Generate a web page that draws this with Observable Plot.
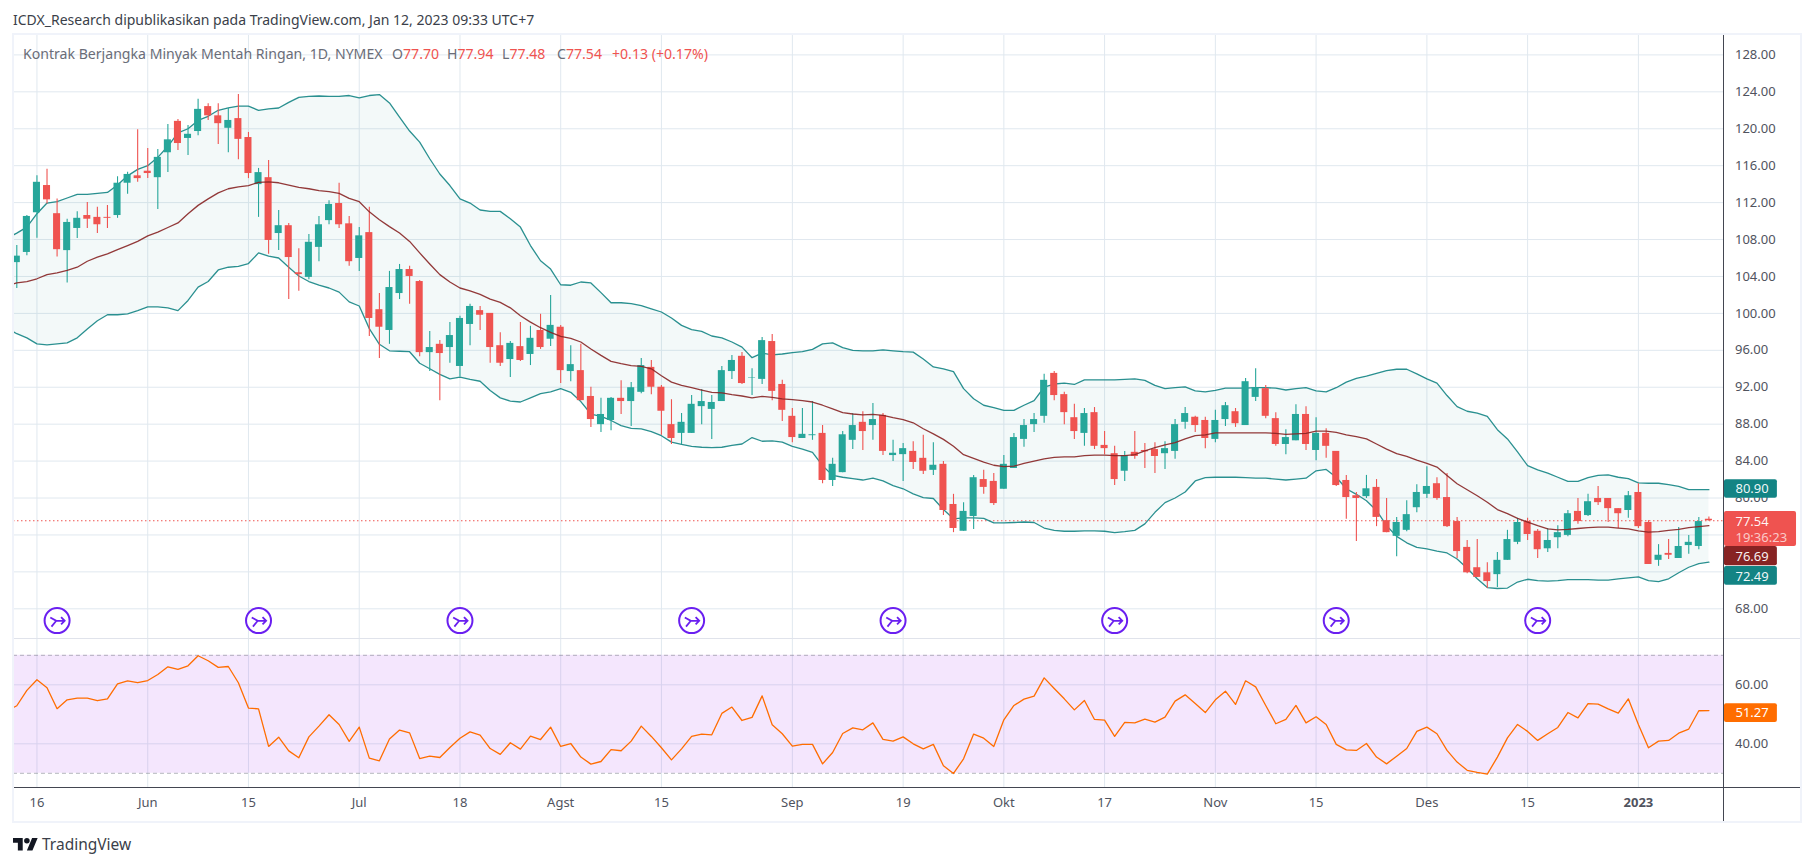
<!DOCTYPE html>
<html><head><meta charset="utf-8">
<script src="https://cdn.jsdelivr.net/npm/d3@7"></script>
<script src="https://cdn.jsdelivr.net/npm/@observablehq/plot@0.6"></script>
<style>
html,body{margin:0;padding:0;background:#fff}
#page{position:relative;width:1813px;height:866px;overflow:hidden;font-family:"Noto Sans",sans-serif}
#page svg{display:block;background:transparent}
.abs{position:absolute;white-space:nowrap}
.line{position:absolute}
#pub{left:13px;top:10px;font-size:14px;color:#3b3f4a}
#legend{left:23px;top:44px;font-size:14.1px;color:#6a6d78}
#legend b{font-weight:400;color:#ef5350}
#legend .g{display:inline-block;width:55px}
#legend .n{display:inline-block;width:369px}
#brand{left:42px;top:833px;font-size:15.5px;color:#3b3f4a}
#top{position:absolute;left:0;top:33px}
#bottom{position:absolute;left:0;top:638px}
</style></head><body>
<div id="page">
<div id="top"></div><div id="bottom"></div>
<div class="line" style="left:12px;top:33px;width:1788px;height:2px;background:#f0f3fa"></div>
<div class="line" style="left:12px;top:33px;width:2px;height:789px;background:#f0f3fa"></div>
<div class="line" style="left:1800px;top:33px;width:2px;height:789px;background:#f0f3fa"></div>
<div class="line" style="left:12px;top:821px;width:1790px;height:2px;background:#f0f3fa"></div>
<div class="line" style="left:14px;top:638px;width:1786px;height:1px;background:#e0e3eb"></div>
<div class="line" style="left:14px;top:787px;width:1786px;height:1px;background:#434651"></div>
<div class="line" style="left:1723px;top:35px;width:1px;height:786px;background:#434651"></div>
<div class="abs" id="pub">ICDX_Research dipublikasikan pada TradingView.com, Jan 12, 2023 09:33 UTC+7</div>
<div class="abs" id="legend"></div>
<svg class="abs" style="left:13px;top:838px" width="25" height="12.5" viewBox="0 4 36 18"><path fill="#131722" d="M14 22H7V11H0V4h14v18zM28 22h-8l7.5-18h8L28 22z"/><circle cx="20" cy="8" r="4" fill="#131722"/></svg>
<div class="abs" id="brand">TradingView</div>
</div>
<script>
const publishedBy = "ICDX_Research dipublikasikan pada TradingView.com, Jan 12, 2023 09:33 UTC+7";
const instrument = "Kontrak Berjangka Minyak Mentah Ringan, 1D, NYMEX";

const openPrices = [
105.5,106.6,110.9,113.85,110.8,106.8,109.2,110.6,110.4,110.4,
110.6,114.1,114.9,115.4,114.7,117.4,120.8,118.95,119.7,122.4,
121.4,120.05,121.1,119.05,113.95,114.7,108.65,109.5,104.4,103.9,
107.15,110.05,111.9,109.7,105.95,108.75,100.4,98.15,102.15,104.75,
103.45,95.75,96.65,96.3,94.25,98.8,100.3,100,96.5,95,
96.4,95.55,98.15,97.2,98.5,93.7,93.8,91,87.95,88.4,
90.8,90.45,91.45,94.15,92,87.95,87,87,89.9,89.6,
90.45,93.7,95.35,93,92.85,96.95,92.3,88.85,86.45,86.75,
87,81.9,82.75,86.25,88.2,87.85,88.95,84.6,84.7,85.05,
84.3,83,83.65,79.3,76.4,78,82,81.8,80.95,83.2,
86.35,87.95,88.85,93.5,91.2,88.7,87,89.25,85.7,84.8,
82.9,84.95,85.15,85.25,84.8,85.05,88.2,88.75,88.4,86.35,
88.5,89.35,87.85,90.9,91.85,88.6,85.8,86.2,89.05,85.15,
87,85.05,81.9,80.25,80.15,81.15,77.55,75.85,76.5,78.95,
80.4,81.55,80.05,77.45,74.65,72.45,71.9,71.7,73.25,75.2,
77.45,76.4,74.5,75.7,75.95,78.55,78.1,79.95,79.95,78.85,
78.65,80.6,77.35,73.25,74,73.45,74.85,74.75,77.7];
const highPrices = [
107.35,110.6,114.9,115.6,112.4,110.2,111,112,111.5,111.7,
114.8,115.3,119.9,117.85,117.75,120.45,121,120.35,123.2,122.7,
122.7,122.2,123.7,119.6,115.7,116.55,111.15,109.75,107,108.55,
110.5,112.2,114.1,110.5,109.3,111.5,102.15,104.55,105.3,105.1,
103.55,98.05,97.05,99,99.7,101,100.75,100,97.9,96.95,
99,98.6,99.9,101.95,98.7,96.5,96.65,92,90.8,90.9,
92.7,92.5,95.1,94.9,92.2,90.65,89.15,91.1,91.75,91.1,
94.25,95.45,95.75,94,97.4,97.7,92.75,89.7,89.7,90.45,
87.85,84.3,87.2,89.15,89.35,90.25,89.15,86.25,85.9,86.1,
86.8,86,83.95,80.4,79.5,82.45,83,82.65,84.6,87,
88.5,89.15,93.4,93.7,91.45,90.15,89.7,89.8,87.2,85.6,
85.05,87.2,85.9,86,86.1,88.5,89.8,88.85,88.75,89.5,
90.35,89.7,92.95,94,92.2,89.25,87.4,90.1,89.9,88.7,
87.5,85.05,82.45,80.6,82.45,82,79.95,77.9,79.7,81.45,
83.4,82.2,82.65,77.9,75.4,75.5,73,74.1,76.5,77.8,
77.8,76.6,76.7,77,78.65,79.95,80.4,81.25,79.95,78.85,
80.7,81.55,77.55,74.95,75.5,76.8,75.95,77.9,77.94];
const lowPrices = [
102.7,106.25,108.15,111.85,106.1,103.3,108.1,109.2,108.65,109.2,
110.3,112.9,114.2,114.6,111.25,115.25,117.65,117.1,119.25,120.9,
118.3,117.4,116.65,114.6,110.4,106.4,106.8,101.5,102.4,103.65,
105.6,109.6,109.2,105.1,104.55,97.5,95.1,96.65,101.5,101,
95.3,93.7,90.55,94.6,93.1,96.5,98.15,94.6,94.25,93.05,
94.8,94.35,96.1,96.4,92.4,92.6,90.55,87.65,87.1,87.3,
89.05,87.75,91.3,91.2,86.8,85.8,85.8,87,87.95,86.35,
90.45,92.85,92.3,91.1,92.3,90.55,88.3,86,86.45,86.25,
81.55,81.25,82.75,85.25,85.15,86.25,84.6,83.95,81.8,83.1,
82.55,82.45,78.1,76.25,76.4,76.6,80.4,79.2,80.95,83.2,
85.5,87.1,88.1,90.55,87.95,86.35,85.6,85.25,84.7,81.35,
81.8,84.2,83.2,82.65,83.1,84.2,87.45,87.1,85.35,86,
87.75,87.65,87.85,90.45,88.6,85.6,84.7,86.2,85.15,84.05,
84.3,81.25,77.7,75.3,79.95,76.9,76.25,73.65,76.35,78.4,
79.95,79.75,76.8,73.45,71.8,71.4,70.2,70.3,73.25,74.95,
75.4,73.45,74.1,74.5,75.8,77.15,78,79.2,77.35,76.7,
77.8,76.7,72.8,72.6,73.35,73.45,73.9,74.4,77.48];
const closePrices = [
106.2,110.5,114.2,112.3,106.9,109.85,110.3,110.2,109.6,110.3,
114.1,115.05,114.6,115.15,116.9,118.8,118.4,119.4,122.1,121.4,
120.55,120.9,118.85,115.15,115.25,107.9,109.5,106.05,104.2,107.7,
109.6,111.8,109.6,105.6,108.4,99.45,98.5,102.8,104.75,104,
95.75,96.3,95.65,97.6,99.45,100.75,99.8,96.3,94.6,96.75,
94.9,97.3,96.3,98.7,93.8,94.45,90.55,88.5,89.05,90.8,
90.45,91.95,94.35,92,89.4,86.45,88.2,90.15,90.45,90.35,
93.8,94.9,92.4,93.05,97.05,91.55,89.5,86.55,86.9,86.85,
81.9,83.65,86.85,87.85,87.2,88.5,85.05,84.85,85.35,83.85,
82.9,83.55,78.65,76.7,78.55,82.2,81.15,79.4,83.65,86.55,
87.85,88.5,92.75,91.1,89.25,87.2,89.15,85.6,85.35,82,
84.6,84.5,85,84.5,85.35,87.95,89.15,87.85,86.45,88.4,
90,88.05,92.6,91.95,88.85,85.8,86.55,89.05,85.8,87,
85.6,81.35,80.05,79.95,81,77.9,76.25,77.35,78.2,80.6,
81.25,79.95,76.9,74.2,71.9,71.4,70.95,73.25,75.5,77.35,
76.05,74.4,75.4,76.25,78.3,77.45,79.6,79.5,78.85,78.3,
80.25,76.9,72.8,73.8,73.8,74.75,75.2,77.45,77.54];

const bbUpper = [
108.7,109.35,110.8,111.95,112.1,112.5,112.9,112.9,113,113.1,
113.9,114.9,115.6,116,116.9,118.1,119.55,120,120.9,121.35,
122,122.25,122.45,122.45,122,122.15,122.25,122.85,123.4,123.5,
123.55,123.5,123.5,123.6,123.35,123.6,123.7,122.8,121.25,119.75,
118.55,116.75,115.1,113.85,112.4,111.95,111.2,111.05,111.05,110.25,
109.35,107.35,105.7,104.8,103.1,103.05,103.4,103.3,102.25,101.15,
101.15,101.05,100.85,100.5,100.15,99.5,98.7,98.25,98.05,97.55,
97.35,96.9,96.35,95.2,95.7,95.5,95.6,95.75,95.85,96.1,
96.7,96.8,96.3,96,95.95,95.95,96.05,95.95,95.85,95.8,
95.05,94.2,94,93.7,91.85,90.75,90.05,89.8,89.5,89.5,
90.05,90.55,92,92.35,92.45,92.3,92.8,92.8,92.8,92.8,
92.85,92.9,92.75,92.2,91.85,91.95,92.05,91.6,91.5,91.65,
91.9,91.9,91.9,91.95,91.95,91.9,91.7,91.85,91.95,91.6,
91.5,91.95,92.55,92.95,93.2,93.5,93.8,93.95,93.95,93.45,
92.9,92.45,91.1,89.9,89.4,89.2,88.85,87.4,86.4,85,
83.5,83.05,82.7,82.25,81.8,81.8,82.2,82.45,82.5,82.25,
82.1,81.65,81.6,81.6,81.45,81.25,80.9,80.9,80.9];
const bbMiddle = [
103.3,103.45,103.75,104.2,104.4,104.65,105,105.65,106.1,106.45,
106.9,107.35,107.8,108.4,108.8,109.3,109.8,110.8,111.7,112.4,
113.05,113.5,113.7,113.85,114.2,114.25,114.15,113.9,113.65,113.5,
113.3,113.2,113,112.45,112.1,111,110.15,109.4,108.7,107.8,
106.55,105.35,104.2,103.4,102.75,102.45,102.05,101.55,101.2,100.6,
99.75,99.05,98.45,97.95,97.5,97.3,96.9,96.15,95.45,94.8,
94.55,94.35,94.25,94,93.25,92.55,92.2,91.95,91.7,91.45,
91.4,91.2,91.05,90.85,91,90.9,90.75,90.65,90.55,90.4,
90.05,89.65,89.25,89.1,89,89.05,88.95,88.7,88.5,88.15,
87.5,86.95,86.35,85.6,84.7,84.3,83.9,83.55,83.4,83.45,
83.75,84,84.25,84.4,84.45,84.45,84.6,84.65,84.65,84.6,
84.6,84.7,85.1,85.45,85.75,86,86.4,86.75,86.85,87.05,
87.05,87.05,87.05,87.05,87.05,87,86.9,86.95,87,87.25,
87.25,87.1,86.85,86.65,86.4,85.85,85.3,84.8,84.5,84.1,
83.75,83.35,82.45,81.55,80.9,80.25,79.55,78.75,78.3,77.8,
77.4,77,76.65,76.55,76.6,76.7,76.8,76.85,76.85,76.75,
76.65,76.45,76.3,76.35,76.5,76.6,76.8,76.9,77];
const bbLower = [
97.8,97.35,96.7,96.6,96.7,96.8,97.35,98.3,99.2,99.85,
99.85,99.95,100.3,100.7,100.7,100.6,100.3,101.4,102.85,103.45,
104.7,105,105.1,105.4,106.55,106.2,106,105,104.05,103.45,
103.05,102.75,102.3,101.25,100.8,98.35,96.65,95.95,95.9,95.85,
94.6,94,93.4,92.9,93.1,92.85,92.65,91.65,90.85,90.5,
90.4,90.85,91.3,91.5,91.85,91.45,90.45,89.1,88.85,88.4,
87.85,87.55,87.5,87.2,86.75,86.05,85.8,85.6,85.5,85.45,
85.5,85.7,85.85,86.55,86.15,86.2,86.05,85.6,85.3,84.95,
83.5,82.45,82.25,82.1,81.95,82.15,81.85,81.35,81,80.45,
80.05,79.95,78.75,77.75,77.85,77.85,77.8,77.3,77.3,77.35,
77.4,77.35,76.75,76.5,76.4,76.4,76.45,76.45,76.4,76.25,
76.35,76.5,77.2,78.45,79.5,80,80.65,81.85,82.2,82.25,
82.25,82.25,82.2,82.15,82.15,82.05,81.95,82.05,82.15,82.95,
83.1,82.25,81,80.4,79.7,78.65,77,75.85,75.15,74.65,
74.5,74.25,74.05,73.4,72.4,71.25,70.3,70.2,70.25,70.9,
71.2,71.05,71,71.05,71.15,71.15,71.15,71.1,71.1,71.25,
71.35,71.45,71.05,70.95,71.25,71.9,72.5,72.9,73.05];

const rsiValues = [
52.9,58.1,61.7,59,51.9,54.9,55.5,55.5,54.6,55.25,
60.35,61.35,60.7,61.45,63.5,66.1,65.2,66.45,69.85,68.15,
65.9,66.2,60.7,52.1,51.85,39.1,42.25,37.6,35.25,42.35,
46,49.85,46.55,40.8,45.65,35.15,34.25,41.6,44.65,43.7,
35,35.8,35.35,38.75,41.9,44.05,42.95,38.4,36.4,40.35,
38.2,42.6,41.45,45.65,39.1,40.1,35.5,33.1,34,38,
37.65,40.9,46,42.5,38.65,34.55,38.3,42.5,43.3,43.05,
50.3,52.45,47.9,48.95,56.25,46.45,43.4,39.2,39.8,39.8,
33.2,37.05,43.5,45.4,44.75,47.1,41.5,40.9,42.35,40,
38.3,39.8,32.55,29.95,34.9,43.3,41.9,39.1,48.15,53,
55.15,56.15,62.35,58.75,55.25,51.5,54.7,48.25,48,42.5,
47.25,47.1,48.35,47.35,49.05,54.45,56.6,53.65,50.6,54.9,
57.85,53.35,61.35,59.3,53,46.8,48.25,53,47.1,49.15,
46.55,39.8,37.95,37.75,40.1,35.5,33.2,35.8,38.4,44.2,
45.65,43.4,37.75,33.8,31,30.3,29.7,35.5,42,46.55,
44.2,41.15,43.4,45.55,50.6,48.8,53.65,53.45,51.85,50.4,
55.25,46.55,38.65,40.9,41.15,43.6,45,51.2,51.27];

// the indicators run on past the first visible candle, up to the pane's left edge
const leftEdgeBar = -0.33;
const leftEdgeBands = {upper:108.5, middle:103.2, lower:98, rsi:52.3};

const gridPriceTicks = [68,72,76,80,84,88,92,96,100,104,108,112,116,120,124,128];
const labelPriceTicks = [68,80,84,88,92,96,100,104,108,112,116,120,124,128];
const rsiTicks = [40,60];
const monthTickBars = [2,13,23,34,44,54,64,77,88,98,108,119,129,140,150];
const monthTickLabels = ["16","Jun","15","Jul","18","Agst","15","Sep","19","Okt","17","Nov","15","Des","15"];
const yearTickBars = [161];
const yearTickLabels = ["2023"];
const splitBars = [4,24,44,67,87,109,131,151];

const GREEN="#26a69a", RED="#ef5350", TEAL="#138484", MAROON="#872323", ORANGE="#ff6d00", PURPLE="#6a1ff0";
const GRID="#e0e8ef", AXISTEXT="#50535e";
const FONT='"Noto Sans",sans-serif';

document.getElementById("pub").textContent = publishedBy;
document.getElementById("legend").innerHTML =
  '<span class="n">' + instrument + '</span>' +
  '<span class="g">O<b>77.70</b></span><span class="g">H<b>77.94</b></span><span class="g">L<b>77.48</b></span><span class="g">C<b>77.54</b></span><b>+0.13 (+0.17%)</b>';

const bars = openPrices.map((o,i)=>({i,open:o,high:highPrices[i],low:lowPrices[i],close:closePrices[i],
  upper:bbUpper[i],middle:bbMiddle[i],lower:bbLower[i],rsi:rsiValues[i],
  color: closePrices[i]>=o ? GREEN : RED}));
const indicatorRows = [{i:leftEdgeBar,...leftEdgeBands},...bars];

const tickLabel = new Map(monthTickBars.map((b,k)=>[b,monthTickLabels[k]]));
const yearLabel = new Map(yearTickBars.map((b,k)=>[b,yearTickLabels[k]]));
const allTicks = [...monthTickBars,...yearTickBars];
const xScale = {domain:[0,168], range:[16.3,1708.4]};
const W=1813, RIGHT=89.5;

// fork-into-arrow glyph of the "split" event badge
const splitGlyph = {draw(ctx,size){
  const r=Math.sqrt(size/Math.PI);
  ctx.moveTo(-r*0.85,-r*0.4); ctx.lineTo(-r*0.1,r*0.02); ctx.lineTo(r*0.95,r*0.02);
  ctx.moveTo(-r*0.7,r*0.75); ctx.lineTo(-r*0.1,r*0.02);
  ctx.moveTo(r*0.5,-r*0.45); ctx.lineTo(r*0.95,r*0.02); ctx.lineTo(r*0.5,r*0.48);
}};

const boxes = [
 {a:81.97,b:79.98,fill:TEAL,to:174.8},
 {a:78.54,b:74.75,fill:RED,to:176.7},
 {a:74.75,b:72.66,fill:MAROON,to:174.8},
 {a:72.58,b:70.56,fill:TEAL,to:174.8}];
const boxTexts = [
 {t:"80.90",y:80.97,c:"#fff",o:0.95},
 {t:"77.54",y:77.46,c:"#fff",o:0.95},
 {t:"19:36:23",y:75.69,c:"#fff",o:0.7},
 {t:"76.69",y:73.66,c:"#fff",o:0.95},
 {t:"72.49",y:71.5,c:"#fff",o:0.95}];

const priceChart = Plot.plot({
  width:W, height:605, marginLeft:13, marginRight:RIGHT, marginTop:2, marginBottom:0,
  style:{fontFamily:FONT,fontSize:"13px",background:"transparent",color:AXISTEXT},
  x:{...xScale, axis:null},
  y:{domain:[68,128], range:[575.3,21.4], axis:null},
  marks:[
    Plot.gridX(allTicks,{stroke:GRID,strokeOpacity:1,strokeWidth:1}),
    Plot.gridY(gridPriceTicks,{stroke:GRID,strokeOpacity:1,strokeWidth:1}),
    Plot.areaY(indicatorRows,{x:"i",y1:"lower",y2:"upper",fill:TEAL,fillOpacity:0.05}),
    Plot.ruleY([77.54],{x1:leftEdgeBar,x2:169.5,stroke:RED,strokeDasharray:"1.5,2.5",strokeWidth:1.2}),
    Plot.line(indicatorRows,{x:"i",y:"upper",stroke:TEAL,strokeWidth:1.3,strokeOpacity:.9}),
    Plot.line(indicatorRows,{x:"i",y:"lower",stroke:TEAL,strokeWidth:1.3,strokeOpacity:.9}),
    Plot.ruleX(bars,{x:"i",y1:"low",y2:"high",stroke:"color",strokeWidth:1.1}),
    Plot.rect(bars,{x1:d=>d.i-0.35,x2:d=>d.i+0.35,y1:"open",y2:"close",fill:"color"}),
    Plot.line(indicatorRows,{x:"i",y:"middle",stroke:MAROON,strokeWidth:1.3,strokeOpacity:.9}),
    Plot.dot(splitBars,{x:d=>d,y:()=>66.72,r:12.5,stroke:PURPLE,strokeWidth:2,fill:"white"}),
    Plot.dot(splitBars,{x:d=>d,y:()=>66.72,r:8,symbol:splitGlyph,stroke:PURPLE,strokeWidth:1.8,fill:"none"}),
    Plot.axisY({anchor:"right",ticks:labelPriceTicks,tickSize:0,tickPadding:11,textAnchor:"start",tickFormat:d=>d.toFixed(2),label:null,fill:AXISTEXT}),
    Plot.rect(boxes,{x1:169.55,x2:"to",y1:"a",y2:"b",fill:"fill",rx:2}),
    Plot.text(boxTexts,{x:170.64,y:"y",text:"t",fill:"c",fillOpacity:"o",textAnchor:"start",fontSize:13})
  ]
});
document.getElementById("top").append(priceChart);

const rsiChart = Plot.plot({
  width:W, height:184, marginLeft:13, marginRight:RIGHT, marginTop:1, marginBottom:34.7,
  style:{fontFamily:FONT,fontSize:"13px",background:"transparent",color:AXISTEXT},
  x:{...xScale},
  y:{domain:[40,60], range:[105.3,46.3]},
  marks:[
    Plot.gridX(allTicks,{stroke:GRID,strokeOpacity:1,strokeWidth:1}),
    Plot.gridY(rsiTicks,{stroke:GRID,strokeOpacity:1,strokeWidth:1}),
    Plot.rect([{a:30,b:70}],{x1:leftEdgeBar,x2:169.5,y1:"a",y2:"b",fill:"#a32fee",fillOpacity:0.12}),
    Plot.ruleY([30,70],{x1:leftEdgeBar,x2:169.5,stroke:"#787b86",strokeOpacity:.55,strokeDasharray:"4,3",strokeWidth:1}),
    Plot.line(indicatorRows,{x:"i",y:"rsi",stroke:ORANGE,strokeWidth:1.3}),
    Plot.axisY({anchor:"right",ticks:rsiTicks,tickSize:0,tickPadding:11,textAnchor:"start",tickFormat:d=>d.toFixed(2),label:null,fill:AXISTEXT}),
    Plot.axisX({ticks:monthTickBars,tickSize:0,tickPadding:10,tickFormat:d=>tickLabel.get(d),label:null,fill:AXISTEXT}),
    Plot.axisX({ticks:yearTickBars,tickSize:0,tickPadding:10,tickFormat:d=>yearLabel.get(d),label:null,fill:AXISTEXT,fontWeight:"bold"}),
    Plot.rect([{a:53.6,b:47.2}],{x1:169.55,x2:174.8,y1:"a",y2:"b",fill:ORANGE,rx:2}),
    Plot.text(["51.27"],{x:170.64,y:()=>50.4,text:d=>d,fill:"#fff",textAnchor:"start",fontSize:13})
  ]
});
document.getElementById("bottom").append(rsiChart);
</script>
</body></html>
